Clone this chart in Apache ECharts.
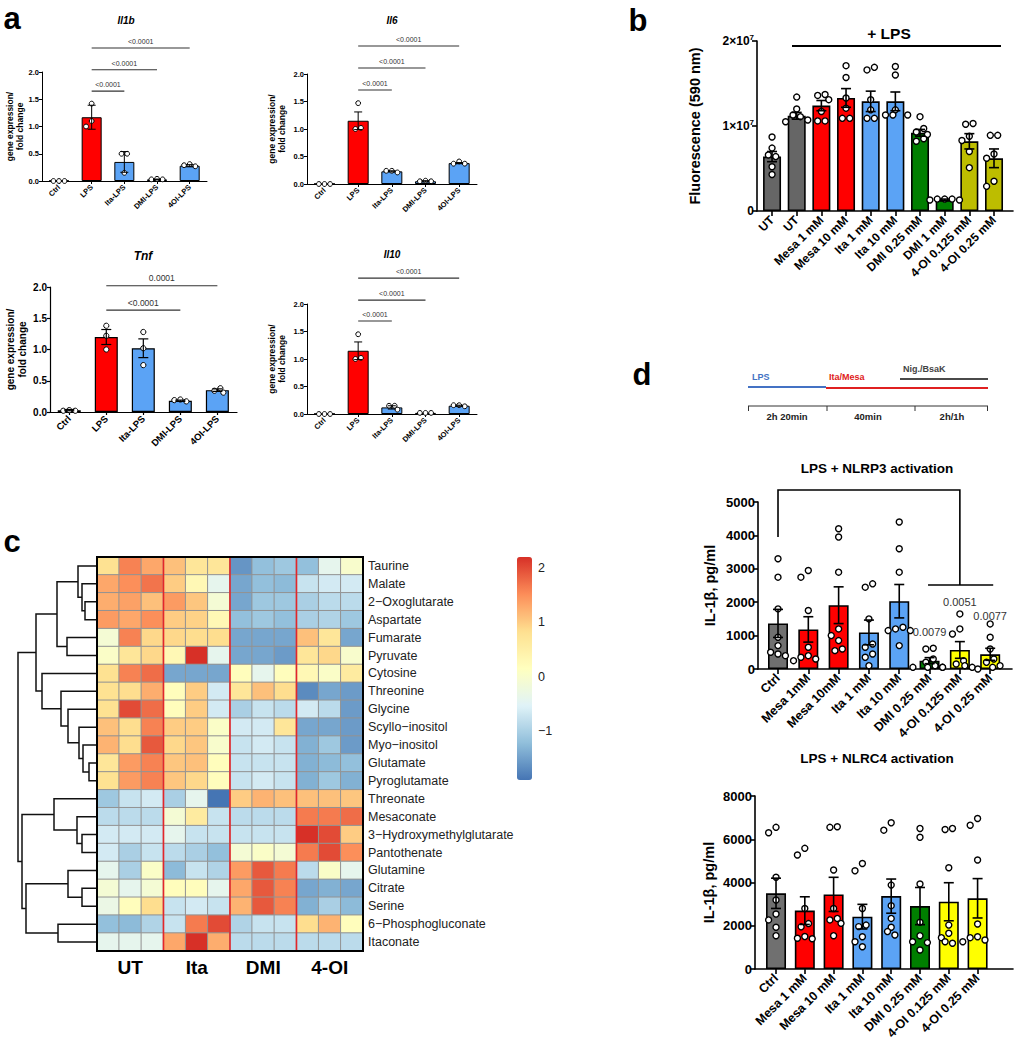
<!DOCTYPE html>
<html><head><meta charset="utf-8">
<script src="https://cdn.jsdelivr.net/npm/echarts@6/dist/echarts.min.js"></script>
<style>html,body{margin:0;padding:0;background:#fff}#c{width:1017px;height:1050px}</style>
</head><body><div id="c"></div><script>
const FONT = '"Liberation Sans", Arial, Helvetica, sans-serif';

// ---------------- Panel a data ----------------
const aCats = ['Ctrl', 'LPS', 'Ita-LPS', 'DMI-LPS', '4OI-LPS'];
const il1bMean = [0.005, 1.17, 0.35, 0.03, 0.28];
const il1bSem  = [0, 0.22, 0.19, 0.005, 0.02];
const il1bPts  = [[0, 0, 0], [1.42, 1.1, 1.0], [0.5, 0.5, 0.15], [0.03, 0.04, 0.03], [0.27, 0.31, 0.29]];
const il6Mean  = [0.003, 1.15, 0.23, 0.05, 0.38];
const il6Sem   = [0, 0.16, 0.01, 0.01, 0.01];
const il6Pts   = [[0, 0, 0], [1.47, 1.02, 1.0], [0.21, 0.24, 0.24], [0.05, 0.05, 0.06], [0.37, 0.41, 0.37]];
const tnfMean  = [0.03, 1.2, 1.02, 0.18, 0.35];
const tnfSem   = [0.01, 0.12, 0.15, 0.01, 0.02];
const tnfPts   = [[0.02, 0.03, 0.02], [1.38, 1.22, 1.0], [1.28, 1.02, 0.75], [0.17, 0.2, 0.19], [0.31, 0.38, 0.34]];
const il10Mean = [0.003, 1.15, 0.12, 0.02, 0.15];
const il10Sem  = [0, 0.16, 0.03, 0, 0.01];
const il10Pts  = [[0, 0, 0], [1.45, 1.02, 1.0], [0.15, 0.08, 0.15], [0.02, 0.02, 0.02], [0.14, 0.16, 0.16]];
const sigIl1b = [[1, 2, '<0.0001'], [1, 3, '<0.0001'], [1, 4, '<0.0001']];
const sigIl6  = [[1, 2, '<0.0001'], [1, 3, '<0.0001'], [1, 4, '<0.0001']];
const sigTnf  = [[1, 3, '<0.0001'], [1, 4, '0.0001']];
const sigIl10 = [[1, 2, '<0.0001'], [1, 3, '<0.0001'], [1, 4, '<0.0001']];

// ---------------- Panel b data (units of 10^7) ----------------
const bCats = ['UT', 'UT', 'Mesa 1 mM', 'Mesa 10 mM', 'Ita 1 mM', 'Ita 10 mM', 'DMI 0.25 mM', 'DMI 1 mM', '4-OI 0.125 mM', '4-OI 0.25 mM'];
const bMean = [0.64, 1.12, 1.24, 1.33, 1.29, 1.29, 0.92, 0.13, 0.82, 0.62];
const bSem  = [0.06, 0.04, 0.06, 0.11, 0.12, 0.11, 0.04, 0.01, 0.09, 0.11];
const bPts  = [
  [0.87, 0.74, 0.66, 0.64, 0.52, 0.43],
  [1.34, 1.2, 1.13, 1.11, 1.07, 1.05],
  [1.37, 1.36, 1.31, 1.17, 1.06, 1.06],
  [1.71, 1.57, 1.33, 1.21, 1.09, 1.09],
  [1.69, 1.66, 1.31, 1.19, 1.09, 1.09],
  [1.70, 1.6, 1.19, 1.13, 1.13, 1.13],
  [1.11, 0.97, 0.93, 0.9, 0.85, 0.82],
  [0.14, 0.14, 0.13, 0.13, 0.14],
  [1.02, 1.03, 0.88, 0.83, 0.7, 0.51],
  [0.89, 0.89, 0.67, 0.62, 0.35, 0.29]
];

// ---------------- Panel c data ----------------
const rowNames = ['Taurine', 'Malate', '2\u2212Oxoglutarate', 'Aspartate', 'Fumarate', 'Pyruvate', 'Cytosine', 'Threonine', 'Glycine', 'Scyllo\u2212inositol', 'Myo\u2212inositol', 'Glutamate', 'Pyroglutamate', 'Threonate', 'Mesaconate', '3\u2212Hydroxymethylglutarate', 'Pantothenate', 'Glutamine', 'Citrate', 'Serine', '6\u2212Phosphogluconate', 'Itaconate'];
const groups = ['UT', 'Ita', 'DMI', '4-OI'];
const heat = [
  [0.8, 1.6, 1.3, 1.1, 0.7, 0.7, -1.6, -1.2, -1.1, -1.2, -0.4, 0.0],
  [1.3, 1.5, 1.7, 1.0, 0.3, -0.4, -1.45, -1.2, -1.25, -0.75, -0.65, -0.65],
  [1.25, 1.35, 1.1, 1.4, 1.05, -0.1, -1.45, -1.1, -1.1, -1.0, -0.85, -0.85],
  [1.4, 1.3, 1.5, 1.0, 0.95, 0.3, -1.2, -1.1, -1.2, -1.0, -0.95, -1.1],
  [-0.1, 1.6, 0.9, 0.9, 0.85, 0.85, -1.45, -1.45, -1.45, 1.1, 0.7, -1.45],
  [0.05, 0.7, 0.9, 0.3, 2.2, -0.4, -1.45, -1.45, -1.55, 0.7, 0.9, 0.0],
  [0.8, 1.6, 1.75, -1.45, -1.45, -1.45, 0.2, -0.4, 0.2, 0.3, 0.05, 0.6],
  [0.8, 0.85, 1.25, 0.2, 1.0, -0.65, 0.7, 1.1, 0.85, -1.7, -1.45, -1.55],
  [0.8, 2.0, 1.75, 0.2, 1.0, -0.65, -1.0, -0.75, -0.85, -0.65, -0.85, -1.55],
  [1.1, 0.85, 1.6, 1.0, 1.0, 0.05, -0.65, -0.65, 0.7, -1.45, -1.45, -1.55],
  [1.2, 0.85, 1.9, 0.9, 1.05, 0.0, -0.75, -0.65, -0.75, -1.35, -1.1, -1.55],
  [0.7, 1.4, 1.6, 1.05, 1.1, 0.2, -0.75, -0.75, -0.75, -1.35, -1.25, -1.2],
  [0.8, 1.4, 1.6, 1.05, 0.9, 0.2, -0.75, -0.65, -0.75, -1.35, -1.1, -1.35],
  [-1.1, -0.75, -0.65, -1.0, -0.4, -1.9, 1.0, 1.2, 1.1, 1.1, 1.1, 1.05],
  [-0.85, -0.85, -0.85, -0.1, 0.6, -0.75, -0.85, -0.85, -0.85, 1.65, 1.65, 1.75],
  [-0.65, -0.65, -0.65, -0.4, -0.75, -0.75, -0.75, -0.75, -0.75, 2.2, 2.0, 1.0],
  [-0.65, -1.0, -0.75, -0.85, -1.0, -1.2, -0.1, 0.05, -0.1, 1.65, 2.0, 1.5],
  [-0.4, -1.0, 0.05, -1.25, -0.75, -0.95, 1.4, 1.9, 1.65, -0.85, 0.05, -0.4],
  [-0.1, -0.4, -0.1, 0.2, 0.2, -0.4, 1.3, 1.9, 1.6, -1.45, -1.35, -1.45],
  [-0.3, 0.2, 0.85, -0.75, -0.65, -0.75, 1.2, 1.9, 1.6, -1.35, -1.0, -1.25],
  [-1.2, -1.25, -0.95, -0.75, 1.65, 2.0, -0.95, -0.75, -0.75, 0.85, 1.2, 0.2],
  [-0.4, -0.4, -0.4, 1.3, 2.2, 1.25, -0.85, -0.85, -0.85, -0.85, -0.85, -0.85]
];
// dendrogram merges: [childA, childB, height]; leaves 0..21, merged nodes numbered from 22
const dendroMerges = [
  [2, 3, 12], [1, 22, 15], [0, 23, 19], [4, 5, 30], [24, 25, 40],
  [11, 12, 8], [10, 27, 14], [9, 28, 18], [8, 29, 29], [7, 30, 36], [6, 31, 55], [26, 32, 61],
  [15, 16, 15], [14, 34, 20], [13, 35, 43], [18, 19, 15], [17, 37, 29], [20, 21, 39], [38, 39, 71], [36, 40, 75], [33, 41, 79]
];
const colorbarTicks = [2, 1, 0, -1];
const heatMin = -1.9, heatMax = 2.2;

// ---------------- Panel d data ----------------
const dCats1 = ['Ctrl', 'Mesa 1mM', 'Mesa 10mM', 'Ita 1 mM', 'Ita 10 mM', 'DMI 0.25 mM', '4-OI 0.125 mM', '4-OI 0.25 mM'];
const dCats2 = ['Ctrl', 'Mesa 1 mM', 'Mesa 10 mM', 'Ita 1 mM', 'Ita 10 mM', 'DMI 0.25 mM', '4-OI 0.125 mM', '4-OI 0.25 mM'];
const nlrp3Mean = [1365, 1185, 1910, 1095, 2030, 250, 570, 440];
const nlrp3Sem  = [420, 380, 550, 370, 500, 90, 250, 180];
const nlrp3Pts  = [
  [3300, 2750, 1800, 950, 700, 500, 450, 400],
  [2950, 2750, 1750, 650, 400, 300, 250, 350],
  [4200, 3950, 2900, 1200, 1000, 850, 600, 550],
  [2550, 2450, 1500, 750, 650, 450, 350, 100],
  [4400, 3600, 2900, 1250, 1200, 1150, 1150, 700],
  [620, 600, 300, 200, 100, 50, 50, 50],
  [1650, 1200, 1050, 250, 150, 100, 50, 50],
  [1350, 950, 600, 300, 200, 100, 50, 0]
];
const nlrp3PLabels = [[5, '0.0079'], [6, '0.0051'], [7, '0.0077']];
const nlrc4Mean = [3500, 2700, 3450, 2420, 3370, 2910, 3110, 3270];
const nlrc4Sem  = [700, 640, 790, 570, 790, 860, 880, 910];
const nlrc4Pts  = [
  [6550, 6300, 4240, 3190, 2540, 2270, 1930, 1540],
  [5580, 5270, 2800, 2100, 1950, 1500, 1420, 1400],
  [6550, 6580, 4580, 2800, 2340, 2270, 2110, 1540],
  [4880, 4540, 2800, 2030, 1960, 1490, 1260, 1030],
  [6760, 6420, 3880, 2930, 2340, 1930, 1730, 1570],
  [6500, 6090, 3930, 2160, 1540, 1260, 1220, 880],
  [6450, 6500, 4680, 2030, 1650, 1450, 1260, 1190],
  [6960, 6650, 5040, 2080, 1490, 1450, 1340, 1260]
];

// ---------------- styles ----------------
const RED = '#FF0000', BLUE = '#5BA3F5', GREY = '#666666', GREEN = '#007F00';
const aColors = ['#FFFFFF', RED, BLUE, BLUE, BLUE];
const bColors = [GREY, GREY, RED, RED, BLUE, BLUE, GREEN, GREEN, '#BDBD00', '#BDBD00'];
const dColors = ['#707070', RED, RED, BLUE, BLUE, GREEN, '#FFFF00', '#FFFF00'];
const heatPalette = ['#4575B4', '#91BFDB', '#E0F3F8', '#FFFFBF', '#FEE090', '#FC8D59', '#D73027'];

const option = {
  animation: false, backgroundColor: '#fff',
  textStyle: { fontFamily: FONT },
  grid: [], xAxis: [], yAxis: [], series: [], graphic: [], visualMap: []
};

function swarm(vals, ppu, d) {
  const n = vals.length, order = [...vals.keys()].sort((a, b) => vals[b] - vals[a]);
  const pos = [], off = new Array(n);
  order.forEach(i => {
    const y = vals[i] * ppu; let c = 0;
    for (let k = 0; k < 30; k++) {
      const cand = k === 0 ? 0 : (k % 2 ? -1 : 1) * Math.ceil(k / 2) * d;
      if (pos.every(p => Math.hypot(p.x - cand, p.y - y) >= d - 0.01)) { c = cand; break; }
    }
    pos.push({ i, x: c, y }); off[i] = c;
  });
  const sorted = pos.slice().sort((a, b) => b.y - a.y);
  let g = [];
  const flush = () => { if (g.length > 1) { const m = g.reduce((s, p) => s + p.x, 0) / g.length; g.forEach(p => off[p.i] = p.x - m); } g = []; };
  sorted.forEach(p => { if (g.length && Math.abs(g[0].y - p.y) > d * 0.5) flush(); g.push(p); });
  flush();
  return off;
}

function addGP(p) {
  const gi = option.grid.length;
  option.grid.push({ left: p.rect[0], top: p.rect[1], width: p.rect[2], height: p.rect[3], containLabel: false, outerBoundsMode: 'none' });
  const idx = p.cats.map((c, i) => i);
  option.xAxis.push({
    gridIndex: gi, type: 'value', min: p.xr[0], max: p.xr[1],
    axisLine: { show: true, onZero: false, lineStyle: { color: '#000', width: p.lw } },
    axisTick: { show: true, customValues: idx, length: p.tick, lineStyle: { color: '#000', width: p.lw } },
    axisLabel: { show: true, customValues: idx, formatter: v => p.cats[Math.round(v)], rotate: 45, fontSize: p.f.cat, fontWeight: 'bold', color: '#000', margin: p.catMargin, fontFamily: FONT },
    splitLine: { show: false }
  });
  option.yAxis.push({
    gridIndex: gi, type: 'value', min: p.yr[0], max: p.yr[1], interval: p.yInt,
    axisLine: { show: true, onZero: false, lineStyle: { color: '#000', width: p.lw } },
    axisTick: { show: true, length: p.tick, lineStyle: { color: '#000', width: p.lw } },
    axisLabel: { formatter: p.yFmt, rich: p.yRich, fontSize: p.f.tick, fontWeight: 'bold', color: '#000', margin: 3, fontFamily: FONT },
    splitLine: { show: false },
    name: p.yName, nameLocation: 'middle', nameGap: p.nameGap, nameRotate: 90,
    nameTextStyle: { fontSize: p.f.name, fontWeight: 'bold', color: '#000', fontFamily: FONT, lineHeight: Math.round(p.f.name * 1.2) }
  });
  option.series.push({
    type: 'bar', xAxisIndex: gi, yAxisIndex: gi, barWidth: p.barW, silent: true, z: 2,
    data: p.means.map((m, i) => ({ value: [i, m], itemStyle: { color: p.colors[i], borderColor: '#000', borderWidth: p.lw } }))
  });
  const ppu = p.rect[3] / (p.yr[1] - p.yr[0]);
  const dots = [];
  p.pts.forEach((arr, i) => { const off = swarm(arr, ppu, p.d); arr.forEach((v, j) => dots.push([i, v, off[j]])); });
  option.series.push({
    type: 'custom', xAxisIndex: gi, yAxisIndex: gi, z: 3, silent: true, data: dots,
    renderItem: (params, api) => {
      const c = api.coord([api.value(0), api.value(1)]);
      return { type: 'circle', shape: { cx: c[0] + api.value(2), cy: c[1], r: p.r }, style: { fill: '#fff', stroke: '#000', lineWidth: p.dotLw } };
    }
  });
  option.series.push({
    type: 'custom', xAxisIndex: gi, yAxisIndex: gi, z: 4, silent: true,
    data: p.means.map((m, i) => [i, m, p.sems[i]]),
    renderItem: (params, api) => {
      const x = api.value(0), m = api.value(1), e = api.value(2);
      if (!(e > 0)) return null;
      const t = api.coord([x, m + e]), b = api.coord([x, m - e]), w = p.cap;
      const st = { stroke: '#000', lineWidth: p.lw };
      return { type: 'group', children: [
        { type: 'line', shape: { x1: t[0], y1: t[1], x2: b[0], y2: b[1] }, style: st },
        { type: 'line', shape: { x1: t[0] - w, y1: t[1], x2: t[0] + w, y2: t[1] }, style: st },
        { type: 'line', shape: { x1: b[0] - w, y1: b[1], x2: b[0] + w, y2: b[1] }, style: st }
      ] };
    }
  });
  if (p.sig) {
    option.series.push({
      type: 'custom', xAxisIndex: gi, yAxisIndex: gi, z: 4, silent: true,
      data: p.sig.map((s, k) => [s[0], p.sigY[k], s[1], k]),
      renderItem: (params, api) => {
        const a = api.coord([api.value(0), api.value(1)]), b = api.coord([api.value(2), api.value(1)]);
        const lab = p.sig[api.value(3)][2];
        return { type: 'group', children: [
          { type: 'line', shape: { x1: a[0], y1: a[1], x2: b[0], y2: b[1] }, style: { stroke: '#333', lineWidth: 1.1 } },
          { type: 'text', style: { text: lab, x: (a[0] + b[0]) / 2, y: a[1] - 3, align: 'center', verticalAlign: 'bottom', fontSize: p.f.sig, fontFamily: FONT, fill: '#333' } }
        ] };
      }
    });
  }
  return gi;
}

// ---------- Panel a ----------
const smallF = { tick: 7.5, cat: 7.5, name: 8.5, sig: 7 };
const aName = 'gene expression/\nfold change';
const aFmt = v => v.toFixed(1);
const aCommon = { cats: aCats, colors: aColors, xr: [-0.52, 4.53], yr: [0, 2], yInt: 0.5, lw: 1, tick: 3, catMargin: 5, barW: 20, r: 2.4, d: 5.6, dotLw: 1, cap: 4, yFmt: aFmt, yName: aName };
addGP(Object.assign({}, aCommon, { rect: [42, 72, 165, 109], means: il1bMean, sems: il1bSem, pts: il1bPts, sig: sigIl1b, sigY: [1.65, 2.04, 2.44], f: smallF, nameGap: 17 }));
addGP(Object.assign({}, aCommon, { rect: [307, 74, 170, 110], means: il6Mean, sems: il6Sem, pts: il6Pts, sig: sigIl6, sigY: [1.71, 2.11, 2.51], f: smallF, nameGap: 20, barW: 21 }));
addGP(Object.assign({}, aCommon, { rect: [50, 287, 187, 125], means: tnfMean, sems: tnfSem, pts: tnfPts, sig: sigTnf, sigY: [1.63, 2.02], f: { tick: 10, cat: 9.5, name: 10, sig: 8.5 }, nameGap: 22, barW: 23, r: 2.6, d: 6, cap: 5, lw: 1.2 }));
addGP(Object.assign({}, aCommon, { rect: [307, 304, 170, 110], means: il10Mean, sems: il10Sem, pts: il10Pts, sig: sigIl10, sigY: [1.69, 2.07, 2.47], f: smallF, nameGap: 20, barW: 21 }));

// ---------- Panel b ----------
addGP({
  rect: [757, 41, 256, 170], cats: bCats, colors: bColors, means: bMean, sems: bSem, pts: bPts,
  xr: [-0.61, 9.77], yr: [0, 2], yInt: 1, lw: 1.6, tick: 5, catMargin: 7, barW: 18, r: 3, d: 7.4, dotLw: 1.4, cap: 5,
  f: { tick: 12, cat: 12, name: 14.5 }, nameGap: 54, yName: 'Fluorescence (590 nm)',
  yFmt: v => v === 0 ? '0' : v + '\u00d710{s|7}',
  yRich: { s: { fontSize: 8, fontWeight: 'bold', verticalAlign: 'top', padding: [0, 0, 7, 0] } }
});

// ---------- Panel d ----------
const gNlrp3 = addGP({
  rect: [758, 502, 254, 167], cats: dCats1, colors: dColors, means: nlrp3Mean, sems: nlrp3Sem, pts: nlrp3Pts,
  xr: [-0.66, 7.72], yr: [0, 5000], yInt: 1000, lw: 1.6, tick: 5, catMargin: 7, barW: 20, r: 3, d: 7.4, dotLw: 1.4, cap: 5,
  f: { tick: 13, cat: 12.5, name: 14.5 }, nameGap: 40, yName: 'IL-1\u03b2, pg/ml', yFmt: v => String(v)
});
addGP({
  rect: [755, 796, 258, 173], cats: dCats2, colors: dColors, means: nlrc4Mean, sems: nlrc4Sem, pts: nlrc4Pts,
  xr: [-0.73, 8.23], yr: [0, 8000], yInt: 2000, lw: 1.6, tick: 5, catMargin: 7, barW: 20, r: 3, d: 7.4, dotLw: 1.4, cap: 5,
  f: { tick: 13, cat: 12.5, name: 14.5 }, nameGap: 38, yName: 'IL-1\u03b2, pg/ml', yFmt: v => String(v)
});
// NLRP3 comparison bracket and p-values
const bracketPath = [[0, 3950], [0, 5360], [6, 5360], [6, 2515]];
const bracketSub = [[4.95, 2515], [7.1, 2515]];
const pLabelY = [1110, 2000, 1590];
option.series.push({
  type: 'custom', xAxisIndex: gNlrp3, yAxisIndex: gNlrp3, z: 5, silent: true, data: [[0, 0]],
  renderItem: (params, api) => {
    const pts = bracketPath.map(q => api.coord(q)), sub = bracketSub.map(q => api.coord(q));
    const kids = [
      { type: 'polyline', shape: { points: pts }, style: { stroke: '#000', lineWidth: 1.6, fill: null } },
      { type: 'line', shape: { x1: sub[0][0], y1: sub[0][1], x2: sub[1][0], y2: sub[1][1] }, style: { stroke: '#000', lineWidth: 1.6 } }
    ];
    nlrp3PLabels.forEach((l, k) => {
      const c = api.coord([l[0], pLabelY[k]]);
      kids.push({ type: 'text', style: { text: l[1], x: c[0], y: c[1], align: 'center', verticalAlign: 'middle', fontSize: 11, fontFamily: FONT, fill: '#333' } });
    });
    return { type: 'group', children: kids };
  }
});

// ---------- Panel c: heatmap ----------
const HM = [97, 557, 266, 394];
const nCols = heat[0].length, nRows = heat.length;
const hg = option.grid.length;
option.grid.push({ left: HM[0], top: HM[1], width: HM[2], height: HM[3], containLabel: false, outerBoundsMode: 'none' });
option.xAxis.push({ gridIndex: hg, type: 'category', data: heat[0].map((v, i) => 'c' + i), show: false });
option.yAxis.push({ gridIndex: hg, type: 'category', data: rowNames, inverse: true, position: 'right',
  axisLine: { show: false }, axisTick: { show: false },
  axisLabel: { fontSize: 12.5, color: '#222', margin: 5, fontFamily: FONT } });
const heatData = [];
heat.forEach((row, r) => row.forEach((v, c) => heatData.push([c, r, v])));
const heatSeries = option.series.length;
option.series.push({ type: 'heatmap', xAxisIndex: hg, yAxisIndex: hg, data: heatData, silent: true,
  itemStyle: { borderColor: '#939393', borderWidth: 1 }, emphasis: { disabled: true } });
option.visualMap.push({ type: 'continuous', min: heatMin, max: heatMax, seriesIndex: heatSeries, dimension: 2,
  orient: 'vertical', left: 517, top: 557, itemWidth: 15, itemHeight: 223, calculable: false, hoverLink: false,
  text: null, padding: 0, inRange: { color: heatPalette } });

// overlay grid: group separators, frame and group labels
const og = option.grid.length;
option.grid.push({ left: HM[0], top: HM[1], width: HM[2], height: HM[3], containLabel: false, outerBoundsMode: 'none' });
const perGroup = nCols / groups.length;
const groupCentres = groups.map((g, i) => (i + 0.5) * perGroup);
option.xAxis.push({ gridIndex: og, type: 'value', min: 0, max: nCols,
  axisLine: { show: false }, axisTick: { show: false }, splitLine: { show: false },
  axisLabel: { customValues: groupCentres, formatter: v => groups[Math.round(v / perGroup - 0.5)], fontSize: 19, fontWeight: 'bold', color: '#000', margin: 7, fontFamily: FONT } });
option.yAxis.push({ gridIndex: og, type: 'value', min: 0, max: nRows, inverse: true, show: false });
const bounds = groups.slice(1).map((g, i) => (i + 1) * perGroup);
option.series.push({
  type: 'custom', xAxisIndex: og, yAxisIndex: og, z: 6, silent: true, data: bounds.map(b => [b, 0]),
  renderItem: (params, api) => {
    const a = api.coord([api.value(0), 0]), b = api.coord([api.value(0), nRows]);
    return { type: 'line', shape: { x1: a[0], y1: a[1], x2: b[0], y2: b[1] }, style: { stroke: '#E3262B', lineWidth: 1.6 } };
  }
});
option.series.push({
  type: 'custom', xAxisIndex: og, yAxisIndex: og, z: 7, silent: true, data: [[0, 0]],
  renderItem: (params, api) => {
    const a = api.coord([0, 0]), b = api.coord([nCols, nRows]);
    return { type: 'rect', shape: { x: a[0], y: a[1], width: b[0] - a[0], height: b[1] - a[1] }, style: { stroke: '#000', lineWidth: 2, fill: null } };
  }
});

// dendrogram
const dg = option.grid.length;
option.grid.push({ left: 10, top: HM[1], width: HM[0] - 10, height: HM[3], containLabel: false, outerBoundsMode: 'none' });
option.xAxis.push({ gridIndex: dg, type: 'value', min: 0, max: HM[0] - 10, inverse: true, show: false });
option.yAxis.push({ gridIndex: dg, type: 'value', min: 0, max: nRows, inverse: true, show: false });
const nodeY = [], nodeH = [];
for (let i = 0; i < nRows; i++) { nodeY.push(i + 0.5); nodeH.push(0); }
const dendroData = [];
dendroMerges.forEach(m => {
  const [a, b, h] = m;
  dendroData.push([nodeH[a], nodeY[a], h, nodeY[b], nodeH[b]]);
  nodeY.push((nodeY[a] + nodeY[b]) / 2); nodeH.push(h);
});
option.series.push({
  type: 'custom', xAxisIndex: dg, yAxisIndex: dg, z: 3, silent: true, data: dendroData,
  renderItem: (params, api) => {
    const pts = [api.coord([api.value(0), api.value(1)]), api.coord([api.value(2), api.value(1)]),
                 api.coord([api.value(2), api.value(3)]), api.coord([api.value(4), api.value(3)])];
    return { type: 'polyline', shape: { points: pts }, style: { stroke: '#111', lineWidth: 1.5, fill: null } };
  }
});

// colour bar tick labels
const cg = option.grid.length;
option.grid.push({ left: 517, top: 557, width: 15, height: 223, containLabel: false, outerBoundsMode: 'none' });
option.xAxis.push({ gridIndex: cg, type: 'value', show: false });
option.yAxis.push({ gridIndex: cg, type: 'value', min: heatMin, max: heatMax, position: 'right',
  axisLine: { show: false }, axisTick: { show: false }, splitLine: { show: false },
  axisLabel: { customValues: colorbarTicks, formatter: v => v < 0 ? '\u2212' + Math.abs(v) : String(v), fontSize: 12.5, color: '#222', margin: 6, fontFamily: FONT } });

// ---------- texts and diagram ----------
function txt(t, x, y, size, extra) {
  return { type: 'text', silent: true, x: x, y: y, style: Object.assign({ text: t, fontSize: size, fontFamily: FONT, fill: '#000', align: 'center', verticalAlign: 'middle' }, extra || {}) };
}
function seg(x1, y1, x2, y2, color, w) {
  return { type: 'line', silent: true, shape: { x1, y1, x2, y2 }, style: { stroke: color, lineWidth: w } };
}
option.graphic.push(
  txt('a', 12, 18, 31, { fontWeight: 'bold' }),
  txt('b', 638, 20, 31, { fontWeight: 'bold' }),
  txt('c', 12, 541, 31, { fontWeight: 'bold' }),
  txt('d', 642, 374, 31, { fontWeight: 'bold' }),
  txt('Il1b', 126, 20, 10, { fontWeight: 'bold', fontStyle: 'italic' }),
  txt('Il6', 392, 20, 10, { fontWeight: 'bold', fontStyle: 'italic' }),
  txt('Tnf', 143, 256, 12, { fontWeight: 'bold', fontStyle: 'italic' }),
  txt('Il10', 392, 254, 10, { fontWeight: 'bold', fontStyle: 'italic' }),
  txt('+ LPS', 889, 33, 15.5, { fontWeight: 'bold' }),
  seg(792, 46, 1001, 46, '#000', 2.2),
  txt('LPS + NLRP3 activation', 877, 468, 13.5, { fontWeight: 'bold' }),
  txt('LPS + NLRC4 activation', 877, 758, 13.5, { fontWeight: 'bold' }),
  // treatment timeline
  txt('LPS', 752, 377, 9, { fontWeight: 'bold', fill: '#4472C4', align: 'left' }),
  seg(748, 387, 826, 387, '#4472C4', 2),
  txt('Ita/Mesa', 829, 377, 9, { fontWeight: 'bold', fill: '#E02020', align: 'left' }),
  seg(826, 388, 988, 388, '#E02020', 2),
  txt('Nig./BsaK', 903, 369, 9, { fontWeight: 'bold', fill: '#444', align: 'left' }),
  seg(900, 379, 988, 379, '#4a4a4a', 2),
  seg(748, 406, 988, 406, '#333', 1),
  seg(748.5, 406, 748.5, 411, '#333', 1), seg(827, 406, 827, 411, '#333', 1),
  seg(915, 406, 915, 411, '#333', 1), seg(987.5, 406, 987.5, 411, '#333', 1),
  txt('2h 20min', 787, 416, 9.5, { fontWeight: 'bold', fill: '#222' }),
  txt('40min', 868, 416, 9.5, { fontWeight: 'bold', fill: '#222' }),
  txt('2h/1h', 952, 416, 9.5, { fontWeight: 'bold', fill: '#222' })
);

const chart = echarts.init(document.getElementById('c'), null, { renderer: 'svg' });
chart.setOption(option);
</script></body></html>
